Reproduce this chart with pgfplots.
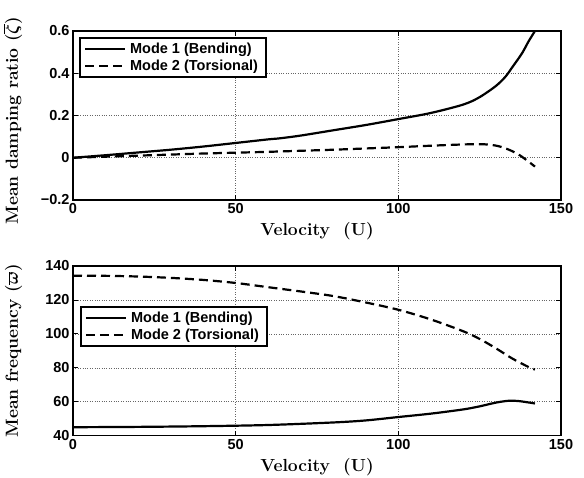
\documentclass[border=0pt]{standalone}
\usepackage{fontspec}
\usepackage{pgfplots}
\pgfplotsset{compat=1.18}
\newfontfamily\arialb{Liberation Sans}
\begin{document}
\begin{tikzpicture}
\path[use as bounding box] (0,0) rectangle (584bp,478bp);
\pgfplotsset{
  mat/.style={
    scale only axis, width=488bp,
    xmin=0, xmax=150, xtick={0,50,100,150},
    axis line style={line width=1.3bp},
    tick style={line width=0.8bp, black},
    major tick length=5bp,
    tick align=inside,
    xtick pos=both, ytick pos=both,
    xticklabel pos=bottom, yticklabel pos=left,
    grid=major,
    major grid style={dotted, black!60, line width=0.6bp},
    /pgf/number format/assume math mode=true,
    tick label style={font=\fontsize{14.5bp}{16bp}\arialb\bfseries},
    label style={font=\fontsize{17.5bp}{19bp}\bfseries\boldmath},
    xlabel style={at={(axis description cs:0.5,0)}, anchor=base, yshift=-36bp},
    ylabel style={at={(axis description cs:0,0.5)}, anchor=base, yshift=55bp},
    legend style={draw=black, line width=1.8bp, font=\fontsize{14.5bp}{16bp}\arialb\bfseries,
      inner xsep=4bp, inner ysep=3bp, row sep=1bp, anchor=north west, legend cell align=left,
      nodes={inner xsep=4bp, inner ysep=2bp}},
    legend image code/.code={\draw[#1] (0bp,0bp) -- (40bp,0bp);},
    every axis plot/.append style={line width=2.2bp, black},
    xlabel={Velocity\ \ (U)},
  },
  dsh/.style={dash pattern=on 9bp off 5bp},
}
\begin{axis}[mat, at={(73bp,278bp)}, anchor=south west, height=169bp,
  ymin=-0.2, ymax=0.6, ytick={-0.2,0,0.2,0.4,0.6},
  yticklabels={−0.2,0,0.2,0.4,0.6},
  ylabel={Mean damping ratio $(\overline{\zeta})$},
  ylabel style={xshift=-5bp},
  legend style={at={(0.0123,0.9645)}}]
\addplot[smooth] coordinates {
(0,0) (10,0.012) (20,0.025) (30,0.038) (40,0.053) (50,0.070) (60,0.087) (63.6,0.092)
(70,0.105) (80,0.130) (90,0.155) (100,0.183) (110,0.212) (120,0.252) (125,0.287)
(130,0.340) (133,0.385) (135,0.428) (138,0.494) (140,0.550) (142,0.600)};
\addlegendentry{Mode 1 (Bending)}
\addplot[smooth, dsh] coordinates {
(0,0) (10,0.005) (20,0.010) (30,0.015) (40,0.020) (50,0.024) (60,0.028) (70,0.033)
(80,0.038) (90,0.044) (100,0.050) (110,0.057) (120,0.063) (125,0.064) (128,0.062)
(131,0.054) (134,0.038) (137,0.015) (140,-0.018) (142,-0.042)};
\addlegendentry{Mode 2 (Torsional)}
\end{axis}
\begin{axis}[mat, at={(73bp,42.3bp)}, anchor=south west, height=169.7bp,
  ymin=40, ymax=140, ytick={40,60,80,100,120,140},
  ylabel={Mean frequency $(\overline{\omega})$},
  legend style={at={(0.0143,0.764)}}]
\addplot[smooth] coordinates {
(0,45) (20,45.2) (40,45.6) (60,46.3) (80,47.8) (90,49) (100,51) (110,53)
(120,55.5) (125,57.3) (130,59.5) (134,60.6) (137,60.4) (140,59.6) (142,59)};
\addlegendentry{Mode 1 (Bending)}
\addplot[smooth, dsh] coordinates {
(0,134.3) (10,134.2) (20,133.8) (30,133) (40,131.8) (50,130) (60,127.5) (70,125)
(80,122.3) (90,118.5) (100,114.2) (110,108.5) (120,101.5) (125,97) (130,91.5)
(135,85.5) (140,80.5) (142,79)};
\addlegendentry{Mode 2 (Torsional)}
\end{axis}
\end{tikzpicture}
\end{document}
